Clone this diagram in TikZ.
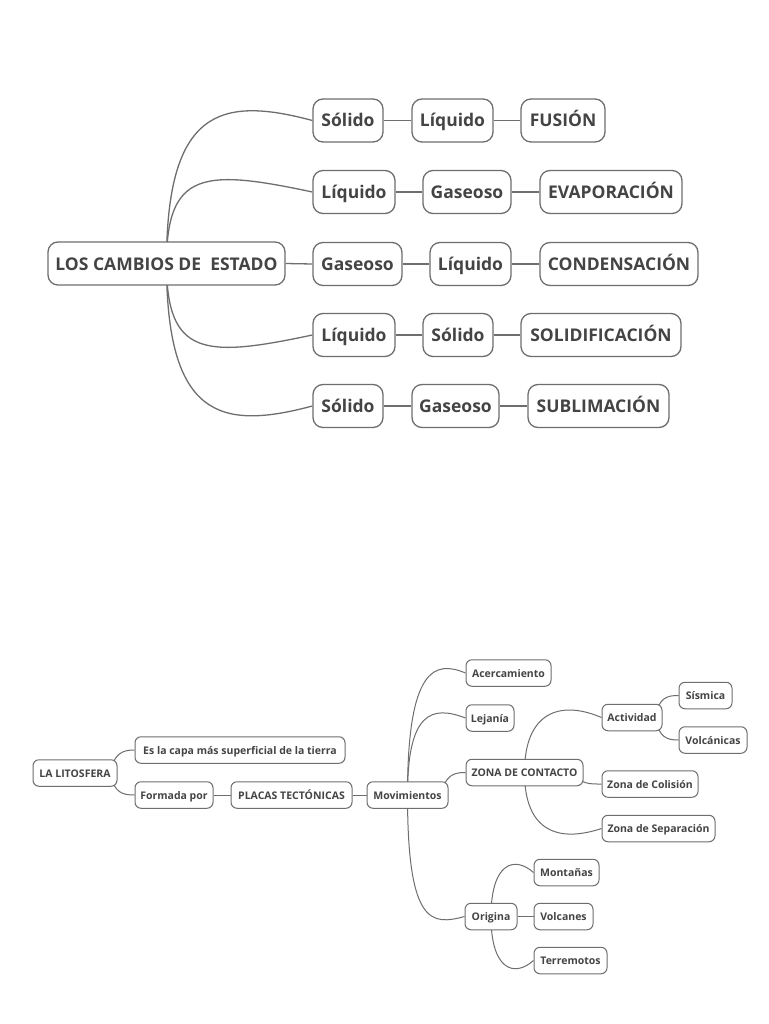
\documentclass[tikz,border=0pt]{standalone}
\usepackage{fontspec}
\setmainfont{Open Sans}
\usetikzlibrary{backgrounds,calc}
\definecolor{ink}{HTML}{444444}
\definecolor{edge}{HTML}{6E6E6E}
\tikzset{
  big/.style={draw=edge, line width=1.3pt, rounded corners=10pt, fill=white, text=ink,
    font=\fontsize{17.5}{19}\selectfont\bfseries, minimum height=43pt, inner sep=0pt,
    text height=13pt, text depth=0pt},
  small/.style={draw=edge, line width=1pt, rounded corners=6pt, fill=white, text=ink,
    font=\fontsize{10.5}{12}\selectfont\bfseries, minimum height=26.5pt, inner sep=0pt,
    text height=8.5pt, text depth=0pt},
  link/.style={draw=edge, line width=1.3pt},
  slink/.style={draw=edge, line width=1pt},
}
\begin{document}
\begin{tikzpicture}[x=1pt,y=-1pt]
\useasboundingbox (0,0) rectangle (768,1024);
% ---------- top map ----------
\node[big, minimum width=237pt] (root) at (166.5,263.5) {LOS CAMBIOS DE\ \ ESTADO};
% row 1
\node[big, minimum width=70pt]  (a1) at (348,120.5) {Sólido};
\node[big, minimum width=81pt]  (a2) at (452.5,120.5) {Líquido};
\node[big, minimum width=84pt]  (a3) at (563,120.5) {FUSIÓN};
% row 2
\node[big, minimum width=82pt]  (b1) at (354,192) {Líquido};
\node[big, minimum width=88pt]  (b2) at (467,192) {Gaseoso};
\node[big, minimum width=142pt] (b3) at (611,192) {EVAPORACIÓN};
% row 3
\node[big, minimum width=89pt]  (c1) at (357.5,264) {Gaseoso};
\node[big, minimum width=81pt]  (c2) at (470.5,264) {Líquido};
\node[big, minimum width=158pt] (c3) at (619,264) {CONDENSACIÓN};
% row 4
\node[big, minimum width=82pt]  (d1) at (354,335) {Líquido};
\node[big, minimum width=70pt]  (d2) at (458,335) {Sólido};
\node[big, minimum width=160pt] (d3) at (601,335) {SOLIDIFICACIÓN};
% row 5
\node[big, minimum width=70pt]  (e1) at (348,406) {Sólido};
\node[big, minimum width=87pt]  (e2) at (455.5,406) {Gaseoso};
\node[big, minimum width=141pt] (e3) at (598.5,406) {SUBLIMACIÓN};
% ---------- bottom map ----------
\node[small, minimum width=84pt]  (lit)    at (75,773) {LA LITOSFERA};
\node[small, minimum width=210pt] (es)     at (240,750) {Es la capa más superficial de la tierra};
\node[small, minimum width=78pt]  (form)   at (174,795) {Formada por};
\node[small, minimum width=121pt] (placas) at (291.5,795) {PLACAS TECTÓNICAS};
\node[small, minimum width=81pt]  (mov)    at (407.5,795) {Movimientos};
\node[small, minimum width=85pt]  (acer)   at (508.5,673) {Acercamiento};
\node[small, minimum width=48pt]  (lej)    at (490,718) {Lejanía};
\node[small, minimum width=117pt] (zona)   at (524.5,772.5) {ZONA DE CONTACTO};
\node[small, minimum width=60pt]  (act)    at (632,717.5) {Actividad};
\node[small, minimum width=53pt]  (sis)    at (705.5,695.5) {Sísmica};
\node[small, minimum width=68pt]  (volc)   at (713,740) {Volcánicas};
\node[small, minimum width=96pt]  (col)    at (650,784) {Zona de Colisión};
\node[small, minimum width=113pt] (sep)    at (658.5,828.5) {Zona de Separación};
\node[small, minimum width=52pt]  (orig)   at (491,916.5) {Origina};
\node[small, minimum width=65pt]  (mont)   at (566.5,872.5) {Montañas};
\node[small, minimum width=59pt]  (volcan) at (563.5,916.5) {Volcanes};
\node[small, minimum width=73pt]  (terr)   at (570.5,960.5) {Terremotos};
% ---------- connectors ----------
\begin{pgfonlayer}{background}
\fill[white] (0,0) rectangle (768,1024);
\draw[link] (root.center) .. controls +(0,-153) and +(-93,-25) .. (a1.west);
\draw[link] (root.center) .. controls +(0,-93) and +(-108,-23) .. (b1.west);
\draw[link] (root.east) -- (c1.west);
\draw[link] (root.center) .. controls +(0,93) and +(-108,23) .. (d1.west);
\draw[link] (root.center) .. controls +(0,153) and +(-93,25) .. (e1.west);
\draw[link] (a1.east) -- (a2.west);
\draw[link] (a2.east) -- (a3.west);
\draw[link] (b1.east) -- (b2.west);
\draw[link] (b2.east) -- (b3.west);
\draw[link] (c1.east) -- (c2.west);
\draw[link] (c2.east) -- (c3.west);
\draw[link] (d1.east) -- (d2.west);
\draw[link] (d2.east) -- (d3.west);
\draw[link] (e1.east) -- (e2.west);
\draw[link] (e2.east) -- (e3.west);
% bottom
\draw[slink] ($(lit.east)+(-8,0)$) .. controls +(5,-20) and +(-12,0) .. (es.west);
\draw[slink] ($(lit.east)+(-8,0)$) .. controls +(5,20) and +(-12,0) .. (form.west);
\draw[slink] (form.east) -- (placas.west);
\draw[slink] (placas.east) -- (mov.west);
\draw[slink] (mov.center) .. controls +(0,-127) and +(-31,-13) .. (acer.west);
\draw[slink] (mov.center) .. controls +(0,-83) and +(-34,-13) .. (lej.west);
\draw[slink] ($(mov.east)+(-8,0)$) .. controls +(5,-20) and +(-12,0) .. (zona.west);
\draw[slink] (mov.center) .. controls +(0,130) and +(-33,9) .. (orig.west);
\draw[slink] (zona.center) .. controls +(0,-60) and +(-42,-18) .. (act.west);
\draw[slink] ($(zona.east)+(-8,0)$) .. controls +(5,12) and +(-12,0) .. (col.west);
\draw[slink] (zona.center) .. controls +(0,60) and +(-42,14) .. (sep.west);
\draw[slink] ($(act.east)+(-8,0)$) .. controls +(5,-20) and +(-12,0) .. (sis.west);
\draw[slink] ($(act.east)+(-8,0)$) .. controls +(5,20) and +(-12,0) .. (volc.west);
\draw[slink] (orig.center) .. controls +(0,-54) and +(-19,-17) .. (mont.west);
\draw[slink] (orig.east) -- (volcan.west);
\draw[slink] (orig.center) .. controls +(0,54) and +(-19,17) .. (terr.west);
\end{pgfonlayer}
\end{tikzpicture}
\end{document}
